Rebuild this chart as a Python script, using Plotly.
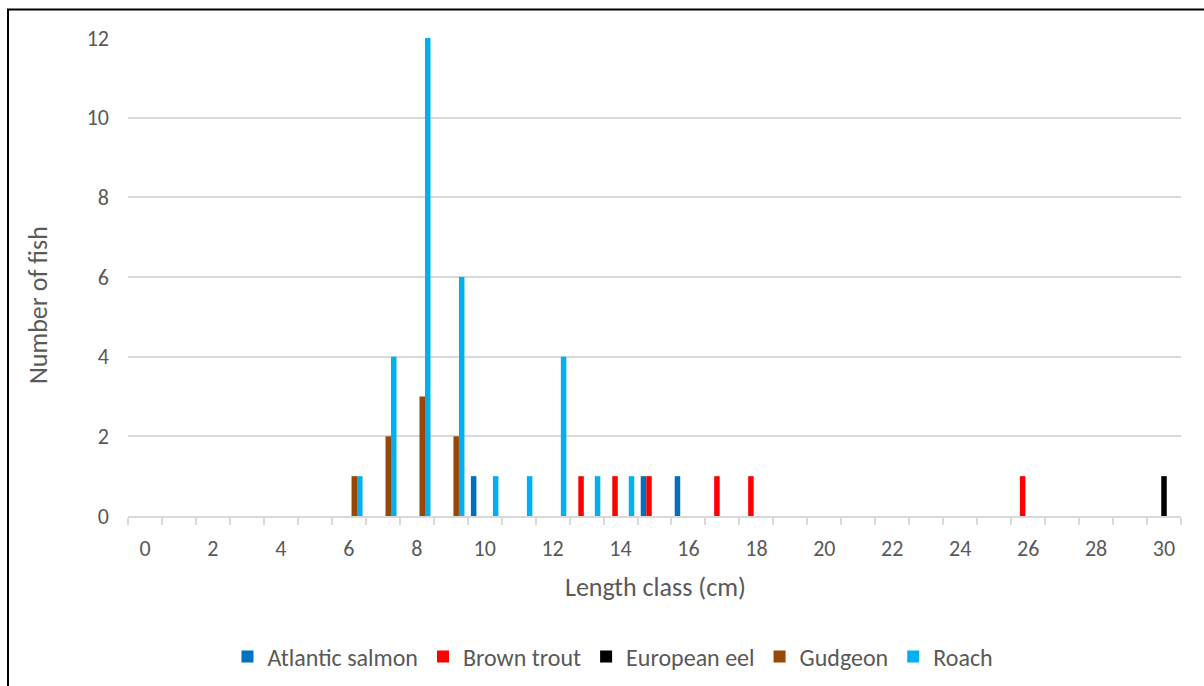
import plotly.graph_objects as go

# Length classes (cm) and catch counts per species
length_class = list(range(0, 31))

atlantic_salmon = [0,0,0,0,0,0,0,0,0,0,1,0,0,0,0,1,1,0,0,0,0,0,0,0,0,0,0,0,0,0,0]
brown_trout     = [0,0,0,0,0,0,0,0,0,0,0,0,0,1,1,1,0,1,1,0,0,0,0,0,0,0,1,0,0,0,0]
european_eel    = [0,0,0,0,0,0,0,0,0,0,0,0,0,0,0,0,0,0,0,0,0,0,0,0,0,0,0,0,0,0,1]
gudgeon         = [0,0,0,0,0,0,1,2,3,2,0,0,0,0,0,0,0,0,0,0,0,0,0,0,0,0,0,0,0,0,0]
roach           = [0,0,0,0,0,0,1,4,12,6,1,1,4,1,1,0,0,0,0,0,0,0,0,0,0,0,0,0,0,0,0]

series_names = ["Atlantic salmon", "Brown trout", "European eel", "Gudgeon", "Roach"]
series_values = [atlantic_salmon, brown_trout, european_eel, gudgeon, roach]
series_colors = ["#0070C0", "#FF0000", "#000000", "#974706", "#00B0F0"]

x_tick_vals = list(range(0, 31, 2))
y_tick_vals = list(range(0, 13, 2))

FONT = "Calibri, Carlito, Lato, sans-serif"
TEXT = "#595959"
GRID = "#D9D9D9"

W, H = 1204, 686
ML, MR, MT, MB = 128, 23, 38, 170
PW, PH = W - ML - MR, H - MT - MB


def px_x(p):
    return (p - ML) / PW


def px_y(p):
    return (H - MB - p) / PH


fig = go.Figure()
for name, vals, col in zip(series_names, series_values, series_colors):
    fig.add_trace(go.Bar(x=length_class, y=vals, name=name,
                         marker=dict(color=col, line=dict(width=0))))

fig.update_layout(
    width=W, height=H,
    margin=dict(l=ML, r=MR, t=MT, b=MB, autoexpand=False),
    paper_bgcolor="white", plot_bgcolor="white",
    barmode="group", bargap=0.19, bargroupgap=0,
    font=dict(family=FONT, color=TEXT, size=22),
    showlegend=True,
    legend=dict(orientation="h", x=px_x(613), xanchor="center",
                y=px_y(657), yanchor="middle",
                font=dict(family=FONT, size=24, color=TEXT),
                traceorder="normal", itemwidth=30),
    xaxis=dict(
        range=[-0.5, 30.5], tickmode="array", tickvals=x_tick_vals,
        ticks="", showgrid=False, zeroline=False,
        showline=True, linecolor=GRID, linewidth=1.5,
        tickfont=dict(family=FONT, size=22, color=TEXT),
        ticklabelstandoff=12,
        minor=dict(tick0=-0.5, dtick=1, ticks="outside", ticklen=7,
                   tickcolor=GRID, tickwidth=1.5, showgrid=False),
    ),
    yaxis=dict(
        range=[0, 12], tickmode="array", tickvals=y_tick_vals,
        showgrid=True, gridcolor=GRID, gridwidth=1.5,
        zeroline=False, showline=False, ticks="",
        tickfont=dict(family=FONT, size=22, color=TEXT),
        ticklabelstandoff=18,
    ),
    annotations=[
        dict(text="Number of fish", xref="paper", yref="paper",
             x=px_x(38), y=px_y(305), textangle=-90, showarrow=False,
             xanchor="center", yanchor="middle",
             font=dict(family=FONT, size=26, color=TEXT)),
        dict(text="Length class (cm)", xref="paper", yref="paper",
             x=px_x(655), y=px_y(587), showarrow=False,
             xanchor="center", yanchor="middle",
             font=dict(family=FONT, size=26, color=TEXT)),
    ],
    shapes=[
        dict(type="rect", xref="paper", yref="paper",
             x0=px_x(8), x1=px_x(1215), y0=px_y(700), y1=px_y(9.5),
             line=dict(color="black", width=2), fillcolor="rgba(0,0,0,0)",
             layer="above"),
    ],
)

fig.write_html("out.html")
